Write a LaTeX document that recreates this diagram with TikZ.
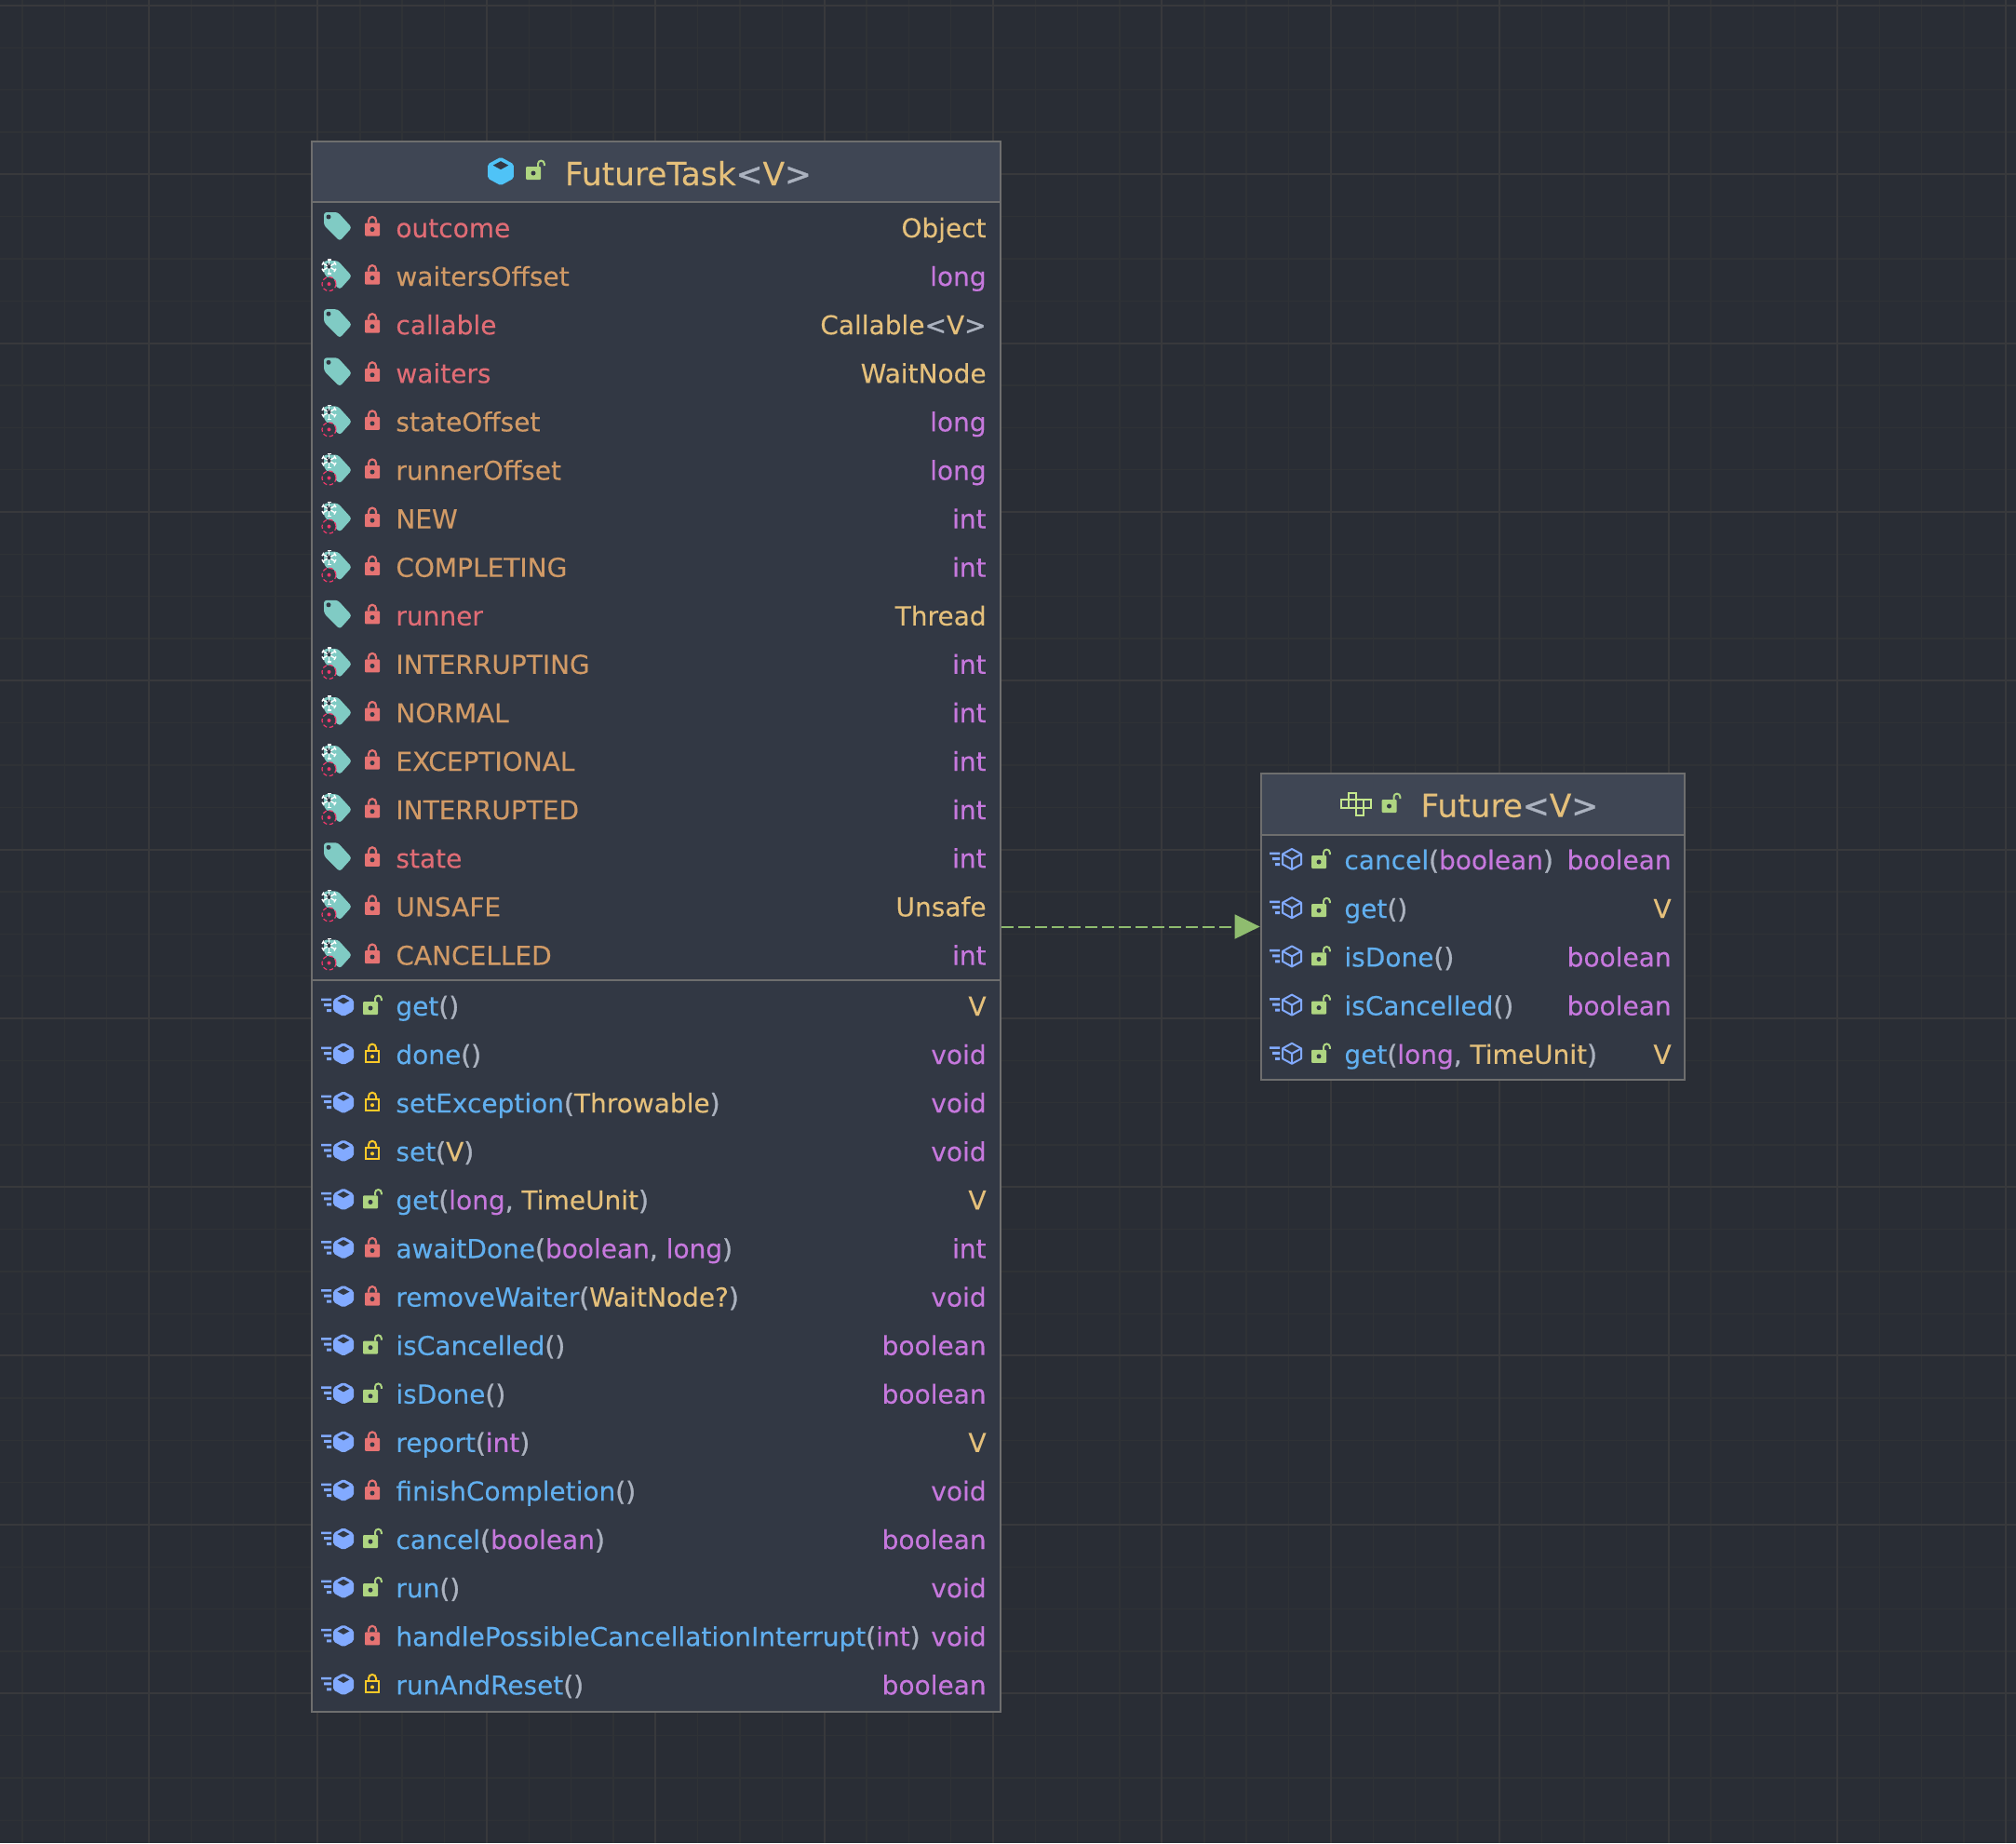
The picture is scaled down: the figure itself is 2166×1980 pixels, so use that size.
\documentclass[tikz,border=0pt]{standalone}
\usepackage{fontspec}
\usetikzlibrary{arrows.meta}
\setmainfont{DejaVu Sans}[FakeBold=0.15]
\newfontfamily\brfont{DejaVu Sans}[FakeBold=1.1]

% theme colours
\definecolor{canvas}{HTML}{292D35}
\definecolor{gridminor}{HTML}{2F3236}
\definecolor{gridmajor}{HTML}{38393C}
\definecolor{boxbody}{HTML}{323844}
\definecolor{boxtitle}{HTML}{3F4654}
\definecolor{boxline}{HTML}{6E6E6E}
\definecolor{plainname}{HTML}{E06C75}
\definecolor{frozenname}{HTML}{D19A66}
\definecolor{methodname}{HTML}{61AFEF}
\definecolor{primtype}{HTML}{C678DD}
\definecolor{reftype}{HTML}{E5C07B}
\definecolor{bracket}{HTML}{ABB2BF}
\definecolor{tagteal}{HTML}{80CBC4}
\definecolor{lockred}{HTML}{E57373}
\definecolor{lockgreen}{HTML}{AED581}
\definecolor{lockyellow}{HTML}{FFCA28}
\definecolor{cubeblue}{HTML}{82AAFF}
\definecolor{classblue}{HTML}{4FC3F7}
\definecolor{faceline}{HTML}{C5E88D}
\definecolor{targetred}{HTML}{F0386B}
\definecolor{implgreen}{HTML}{8FBC6F}

\newcommand{\mn}[1]{\textcolor{methodname}{#1}}
\newcommand{\pt}[1]{\textcolor{primtype}{#1}}
\newcommand{\rt}[1]{\textcolor{reftype}{#1}}
\newcommand{\br}[1]{\textcolor{bracket}{\brfont #1}}

\tikzset{
  classbox/.style={draw=boxline,fill=boxbody,line width=1pt,inner sep=0pt},
  rowname/.style={anchor=base west,inner sep=0pt,font=\fontsize{14}{16}\selectfont},
  rowtype/.style={anchor=base east,inner sep=0pt,font=\fontsize{14}{16}\selectfont},
  titletext/.style={anchor=base west,inner sep=0pt,font=\fontsize{17.2}{20}\selectfont},
  implarrow/.style={draw=implgreen,line width=1pt,dash pattern=on 6.4pt off 2.6pt,
    -{Triangle[length=13.5pt,width=13pt,fill=implgreen]}},
  pics/barmarks/.style={code={
    \fill[cubeblue] (-24,-7.5) rectangle (-13,-5) (-21,-2) rectangle (-13,1) (-18,4) rectangle (-13,7);
  }},
  pics/solidcube/.style={code={
    \fill[#1,rounded corners=1pt] (0,-12) -- (11,-6) -- (11,6) -- (0,12) -- (-11,6) -- (-11,-6) -- cycle;
    \fill[boxbody] (0,-8.5) -- (6.5,-5) -- (0,-1.5) -- (-6.5,-5) -- cycle;
  }},
  pics/hollowcube/.style={code={
    \draw[cubeblue,line width=1pt,line join=round] (0,-11) -- (10,-5.5) -- (10,5.5) -- (0,11) -- (-10,5.5) -- (-10,-5.5) -- cycle;
    \draw[cubeblue,line width=1pt] (-10,-5.5) -- (0,0) -- (10,-5.5) (0,0) -- (0,11);
  }},
  pics/openlock/.style={code={
    \fill[lockgreen,rounded corners=.5pt] (0,-4) rectangle (16,10);
    \draw[lockgreen,line width=1pt] (13,-4) -- (13,-7) arc[start angle=180,end angle=360,radius=3.4] -- (19.8,-5);
    \fill[boxbody] (8,3) circle[radius=2.5];
  }},
  pics/redlock/.style={code={
    \fill[lockred,rounded corners=.5pt] (2,-4) rectangle (18,10);
    \draw[lockred,line width=1.1pt] (6,-4) -- (6,-6.5) arc[start angle=180,end angle=360,radius=4] -- (14,-4);
    \fill[boxbody] (10,3) circle[radius=2.5];
  }},
  pics/yellowlock/.style={code={
    \draw[lockyellow,line width=1pt] (3,-3) rectangle (17,9);
    \draw[lockyellow,line width=1pt] (6,-3) -- (6,-6.5) arc[start angle=180,end angle=360,radius=4] -- (14,-3);
    \fill[lockyellow] (10,3) circle[radius=2];
  }},
  pics/plaintag/.style={code={
    \fill[tagteal,rounded corners=1.5pt] (-15,-15.5) -- (0,-15.5) -- (15,1) -- (2,15.5) -- (-15,-1.5) -- cycle;
    \fill[boxbody] (-10,-10.5) circle[radius=2.5];
  }},
  pics/frozentag/.style={code={
    \pic {plaintag};
    % snowflake
    \foreach \a in {30,90,...,330}
      \draw[white,line width=.7pt] (-9.5,-9) -- ++(\a:7.5) ++(\a+90:2) -- ++(\a-90:4);
    \fill[boxbody] (-9.5,-9) circle[radius=2];
    % target mark
    \fill[boxbody] (-9.5,9.5) circle[radius=7.5];
    \draw[targetred,line width=.6pt,dash pattern=on 2.2pt off 1.3pt] (-9.5,9.5) circle[radius=7.5];
    \fill[targetred] (-9.5,9.5) circle[radius=2];
  }},
}

\begin{document}
\begin{tikzpicture}[x=.5pt,y=-.5pt]
  \useasboundingbox (0,0) rectangle (2166,1980);
  \fill[canvas] (0,0) rectangle (2166,1980);

  % Draw background grid, every fourth line is stronger
  \foreach \k in {0,...,47} {
    \draw[gridminor,line width=.7pt] (24+45.35*\k,0) -- (24+45.35*\k,1980);
  }
  \foreach \k in {0,...,43} {
    \draw[gridminor,line width=.7pt] (0,6+45.33*\k) -- (2166,6+45.33*\k);
  }
  \foreach \k in {0,...,11} {
    \draw[gridmajor,line width=1pt] (160+181.4*\k,0) -- (160+181.4*\k,1980);
  }
  \foreach \k in {0,...,10} {
    \draw[gridmajor,line width=1pt] (0,6+181.3*\k) -- (2166,6+181.3*\k);
  }

  % Draw the two class boxes
  \node (futuretask) [classbox,minimum width=370pt,minimum height=843.5pt] at (705,995.5) {};
  \node (future) [classbox,minimum width=227.8pt,minimum height=164.5pt] at (1582.4,995.5) {};

  % Title strips and section lines
  \fill[boxtitle] (336,153) rectangle (1074,217);
  \draw[boxline,line width=1pt] (futuretask.west |- 0,217) -- (futuretask.east |- 0,217);
  \draw[boxline,line width=1pt] (futuretask.west |- 0,1053) -- (futuretask.east |- 0,1053);
  \fill[boxtitle] (1355.5,832) rectangle (1809,896);
  \draw[boxline,line width=1pt] (future.west |- 0,897) -- (future.east |- 0,897);

  % Titles
  \pic[scale=1.27] at (538,184) {solidcube=classblue};
  \pic at (565,183) {openlock};
  \node (futuretasktitle) [titletext] at (606.5,199) {\rt{FutureTask}\br{<}\rt{V}\br{>}};
  \draw[faceline,line width=1pt] (1448.7,851.7) rectangle ++(8,7.5)
    (1440.7,859.2) rectangle ++(8,8.3) ++(0,-8.3) rectangle ++(8,8.3) ++(0,-8.3) rectangle ++(8,8.3) ++(0,-8.3) rectangle ++(8,8.3)
    (1456.7,867.5) rectangle ++(8,8);
  \pic at (1484.5,863) {openlock};
  \node (futuretitle) [titletext] at (1526,877.7) {\rt{Future}\br{<}\rt{V}\br{>}};

  % Draw field rows of FutureTask
  \foreach \kd/\nm/\ty [count=\i from 0] in {
    plain/outcome/\rt{Object},
    frozen/waitersOffset/\pt{long},
    plain/callable/{\rt{Callable}\br{<}\rt{V}\br{>}},
    plain/waiters/\rt{WaitNode},
    frozen/stateOffset/\pt{long},
    frozen/runnerOffset/\pt{long},
    frozen/NEW/\pt{int},
    frozen/COMPLETING/\pt{int},
    plain/runner/\rt{Thread},
    frozen/INTERRUPTING/\pt{int},
    frozen/NORMAL/\pt{int},
    frozen/EXCEPTIONAL/\pt{int},
    frozen/INTERRUPTED/\pt{int},
    plain/state/\pt{int},
    frozen/UNSAFE/\rt{Unsafe},
    frozen/CANCELLED/\pt{int}} {
    \pgfmathsetmacro\rowy{243.5+52.1*\i}
    \pic at (363,\rowy) {\kd tag};
    \pic at (390,\rowy) {redlock};
    \node (field\i) [rowname,text=\kd name] at (425,\rowy+11.5) {\nm};
    \node (fieldtype\i) [rowtype] at (1060,\rowy+11.5) {\ty};
  }

  % Draw method rows of FutureTask
  \foreach \lk/\nm/\ty [count=\i from 0] in {
    open/{\mn{get}\br{()}}/\rt{V},
    yellow/{\mn{done}\br{()}}/\pt{void},
    yellow/{\mn{setException}\br{(}\rt{Throwable}\br{)}}/\pt{void},
    yellow/{\mn{set}\br{(}\rt{V}\br{)}}/\pt{void},
    open/{\mn{get}\br{(}\pt{long}\br{, }\rt{TimeUnit}\br{)}}/\rt{V},
    red/{\mn{awaitDone}\br{(}\pt{boolean}\br{, }\pt{long}\br{)}}/\pt{int},
    red/{\mn{removeWaiter}\br{(}\rt{WaitNode?}\br{)}}/\pt{void},
    open/{\mn{isCancelled}\br{()}}/\pt{boolean},
    open/{\mn{isDone}\br{()}}/\pt{boolean},
    red/{\mn{report}\br{(}\pt{int}\br{)}}/\rt{V},
    red/{\mn{finishCompletion}\br{()}}/\pt{void},
    open/{\mn{cancel}\br{(}\pt{boolean}\br{)}}/\pt{boolean},
    open/{\mn{run}\br{()}}/\pt{void},
    red/{\mn{handlePossibleCancellationInterrupt}\br{(}\pt{int}\br{)}}/\pt{void},
    yellow/{\mn{runAndReset}\br{()}}/\pt{boolean}} {
    \pgfmathsetmacro\rowy{1080+52.1*\i}
    \pic at (369,\rowy) {barmarks};
    \pic at (369,\rowy) {solidcube=cubeblue};
    \pic at (390,\rowy) {\lk lock};
    \node (method\i) [rowname] at (425,\rowy+11) {\nm};
    \node (methodtype\i) [rowtype] at (1060,\rowy+11) {\ty};
  }

  % Draw method rows of Future
  \foreach \nm/\ty [count=\i from 0] in {
    {\mn{cancel}\br{(}\pt{boolean}\br{)}}/\pt{boolean},
    {\mn{get}\br{()}}/\rt{V},
    {\mn{isDone}\br{()}}/\pt{boolean},
    {\mn{isCancelled}\br{()}}/\pt{boolean},
    {\mn{get}\br{(}\pt{long}\br{, }\rt{TimeUnit}\br{)}}/\rt{V}} {
    \pgfmathsetmacro\rowy{923+52.2*\i}
    \pic at (1388,\rowy) {barmarks};
    \pic at (1388,\rowy) {hollowcube};
    \pic at (1409,\rowy) {openlock};
    \node (facemethod\i) [rowname] at (1444,\rowy+11) {\nm};
    \node (facetype\i) [rowtype] at (1796,\rowy+11) {\ty};
  }

  % FutureTask implements Future
  \draw[implarrow] (futuretask.east) -- (future.west);
\end{tikzpicture}
\end{document}
